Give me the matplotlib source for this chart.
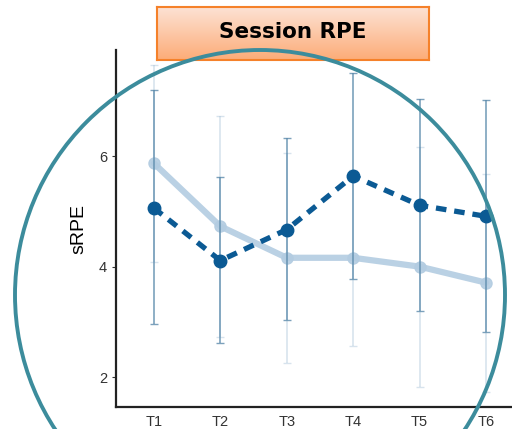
import numpy as np
import matplotlib
matplotlib.use("Agg")
import matplotlib.pyplot as plt
from matplotlib.patches import Ellipse

plt.rcParams["font.family"] = ["Liberation Sans", "DejaVu Sans"]

# data
sessions = ["T1", "T2", "T3", "T4", "T5", "T6"]
light_mean = [5.87, 4.73, 4.16, 4.16, 4.00, 3.71]
light_sd = [1.78, 2.00, 1.90, 1.59, 2.17, 1.97]
dark_mean = [5.06, 4.11, 4.67, 5.64, 5.11, 4.91]
dark_lo = [2.97, 2.62, 3.04, 3.78, 3.20, 2.82]
dark_hi = [7.19, 5.63, 6.33, 7.50, 7.04, 7.02]

x = np.arange(1, len(sessions) + 1)

fig = plt.figure(figsize=(5.12, 4.29), dpi=100)
ax = fig.add_axes([116 / 512, 22 / 429, 396 / 512, 357 / 429])

# light series
ax.errorbar(x, light_mean, yerr=light_sd, fmt="none", ecolor="#9dbad2",
            elinewidth=1.2, capsize=3, alpha=0.4, zorder=1)
ax.plot(x, light_mean, color="#b3cce1", lw=4.5, marker="o", ms=8,
        solid_capstyle="round", alpha=0.9, zorder=2)

# dark series
dark_err = [np.array(dark_mean) - np.array(dark_lo),
            np.array(dark_hi) - np.array(dark_mean)]
ax.errorbar(x, dark_mean, yerr=dark_err, fmt="none", ecolor="#5b8aab",
            elinewidth=1.2, capsize=3, alpha=0.8, zorder=3)
ax.plot(x, dark_mean, color="#0b5a94", lw=3.8, ls=(0, (2.0, 1.5)),
        marker="o", ms=9, zorder=4)

ax.set_xlim(0.43, 6.39)
ax.set_ylim(1.46, 7.92)
ax.set_xticks(x)
ax.set_xticklabels(sessions)
ax.set_yticks([2, 4, 6])
ax.tick_params(labelsize=10.5, colors="#333333", length=3, width=0.8)
ax.tick_params(axis="x", length=0, pad=6)
ax.set_ylabel("sRPE", fontsize=14, labelpad=8)
for side in ["top", "right"]:
    ax.spines[side].set_visible(False)
for side in ["left", "bottom"]:
    ax.spines[side].set_linewidth(1.6)
    ax.spines[side].set_color("#222222")

# title box with orange gradient
tax = fig.add_axes([157 / 512, 1 - 60 / 429, 272 / 512, 53 / 429])
grad = np.linspace(0, 1, 100).reshape(-1, 1)
top = np.array([253, 226, 212]) / 255
bot = np.array([252, 172, 120]) / 255
img = top + grad[:, :, None] * (bot - top)
tax.imshow(img, aspect="auto", extent=[0, 1, 0, 1], origin="upper")
tax.set_xticks([])
tax.set_yticks([])
for s in tax.spines.values():
    s.set_color("#f5812a")
    s.set_linewidth(1.5)
tax.text(0.5, 0.52, "Session RPE", ha="center", va="center", fontsize=15.5,
         fontweight="bold", family="DejaVu Sans", transform=tax.transAxes)

# teal circle annotation
circ = Ellipse((260 / 512, 1 - 295 / 429), 490 / 512, 490 / 429,
               transform=fig.transFigure, fill=False, ec="#3c8c9c", lw=2.8,
               clip_on=False, zorder=10)
fig.patches.append(circ)

fig.savefig("out.png", dpi=100)
